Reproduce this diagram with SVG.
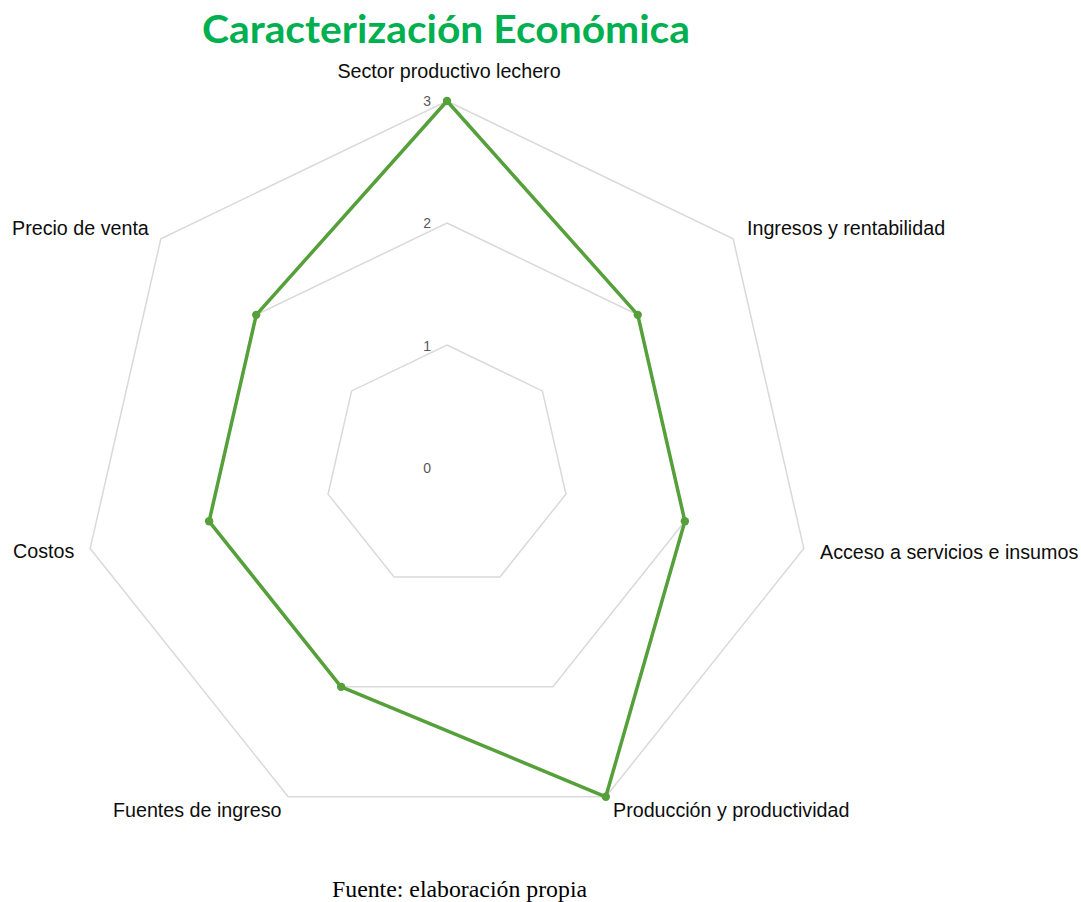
<svg xmlns="http://www.w3.org/2000/svg" width="1081" height="902" viewBox="0 0 1081 902">
<style>
.grid{fill:none;stroke:#d9d9d9;stroke-width:1.5;stroke-linejoin:miter}
.data{fill:none;stroke:#55a03a;stroke-width:3.5;stroke-linejoin:round}
.dot{fill:#55a03a}
.lbl{font-family:"Liberation Sans",Arial,sans-serif;font-size:19.7px;fill:#0d0d0d}
.tick{font-family:"Liberation Sans",Arial,sans-serif;font-size:14px;fill:#595959;text-anchor:end}
.title{font-family:Lato,"Open Sans",sans-serif;font-weight:bold;font-size:39px;fill:#00b050}
.src{font-family:"Liberation Serif","Times New Roman",serif;font-size:23.8px;fill:#000}
</style>
<rect width="1081" height="902" fill="#fff"/>
<text class="title" x="202" y="43" textLength="488" lengthAdjust="spacingAndGlyphs">Caracterización Económica</text>
<g id="grid">
<polygon class="grid" points="447,345 542.38,390.93 565.94,494.15 499.93,576.92 394.07,576.92 328.06,494.15 351.62,390.93"/>
<polygon class="grid" points="447,223 637.77,314.87 684.88,521.29 552.87,686.84 341.13,686.84 209.12,521.29 256.23,314.87"/>
<polygon class="grid" points="447,101 733.15,238.8 803.82,548.44 605.8,796.76 288.2,796.76 90.18,548.44 160.85,238.8"/>
</g>
<g id="ticks">
<text class="tick" x="431" y="473">0</text>
<text class="tick" x="431" y="351">1</text>
<text class="tick" x="431" y="228">2</text>
<text class="tick" x="431" y="106">3</text>
</g>
<g id="connectors">
<polygon class="data" points="447,101 637.77,314.87 684.88,521.29 605.8,796.76 341.13,686.84 209.12,521.29 256.23,314.87"/>
</g>
<g id="node-sector"><circle class="dot" cx="447" cy="101" r="4.2"/><text class="lbl" x="449" y="78" text-anchor="middle">Sector productivo lechero</text></g>
<g id="node-ingresos"><circle class="dot" cx="637.77" cy="314.87" r="4.2"/><text class="lbl" x="747" y="235">Ingresos y rentabilidad</text></g>
<g id="node-acceso"><circle class="dot" cx="684.88" cy="521.29" r="4.2"/><text class="lbl" x="820" y="559">Acceso a servicios e insumos</text></g>
<g id="node-produccion"><circle class="dot" cx="605.8" cy="796.76" r="4.2"/><text class="lbl" x="613" y="817">Producción y productividad</text></g>
<g id="node-fuentes"><circle class="dot" cx="341.13" cy="686.84" r="4.2"/><text class="lbl" x="113" y="817">Fuentes de ingreso</text></g>
<g id="node-costos"><circle class="dot" cx="209.12" cy="521.29" r="4.2"/><text class="lbl" x="13" y="558">Costos</text></g>
<g id="node-precio"><circle class="dot" cx="256.23" cy="314.87" r="4.2"/><text class="lbl" x="12" y="234.5">Precio de venta</text></g>
<text class="src" x="332" y="897">Fuente: elaboración propia</text>
</svg>
